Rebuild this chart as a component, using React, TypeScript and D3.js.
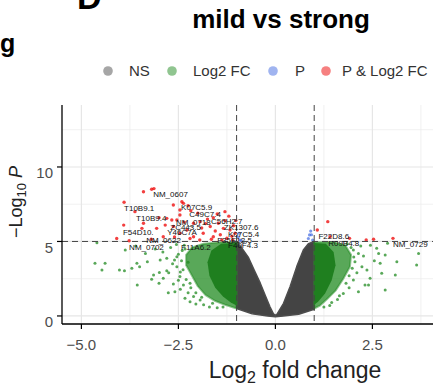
import React from "react";
import * as d3 from "d3";

// ---------- data ----------
const xTicks = [-5, -2.5, 0, 2.5];
const xMinor = [-3.75, -1.25, 1.25, 3.75];
const yTicks = [0, 5, 10];
const yMinor = [2.5, 7.5, 12.5];
const fcCutoff = 1;
const pCutoff = 5;

const legendItems = ["NS", "Log2 FC", "P", "P & Log2 FC"];

// dense "NS" cloud boundary (fc, -log10 p)
const nsCloud: [number, number][] = [
  [-1, 5.0], [-0.85, 4.5], [-0.7, 3.95], [-0.55, 3.1], [-0.39, 2.2], [-0.25, 1.3],
  [-0.14, 0.62], [-0.05, 0.15], [0, 0.04], [0.05, 0.15], [0.21, 0.85], [0.38, 1.97],
  [0.55, 3.31], [0.72, 4.43], [0.85, 4.85], [1, 5.0], [1, 0.45], [0.6, 0.12],
  [0.2, 0.0], [0, -0.05], [-0.2, 0.0], [-0.6, 0.14], [-1, 0.5],
];

// dense "Log2 FC" clouds (outer / core)
const fcLeftOuter: [number, number][] = [
  [-1.0, 4.95], [-1.45, 4.95], [-1.85, 4.85], [-2.15, 4.6], [-2.3, 4.1], [-2.3, 3.4],
  [-2.15, 2.7], [-2.0, 2.0], [-1.8, 1.4], [-1.55, 1.0], [-1.3, 0.75], [-1.0, 0.5],
];
const fcLeftCore: [number, number][] = [
  [-1.0, 4.9], [-1.4, 4.85], [-1.65, 4.4], [-1.75, 3.6], [-1.7, 2.7], [-1.55, 1.9],
  [-1.35, 1.3], [-1.15, 0.9], [-1.0, 0.7],
];
const fcRightOuter: [number, number][] = [
  [1.0, 4.95], [1.5, 4.95], [1.8, 4.75], [1.95, 4.1], [1.92, 3.3], [1.75, 2.5],
  [1.55, 1.7], [1.32, 1.1], [1.15, 0.7], [1.0, 0.5],
];
const fcRightCore: [number, number][] = [
  [1.0, 4.9], [1.3, 4.85], [1.5, 4.3], [1.55, 3.4], [1.45, 2.4], [1.28, 1.5],
  [1.1, 0.95], [1.0, 0.75],
];

// scattered points
const greenPts: [number, number][] = [
  [-4.65, 3.54], [-4.39, 3.54], [-4.47, 3.09], [-4.02, 3.09], [-3.89, 3.04], [-3.7, 3.2],
  [-3.57, 3.54], [-3.5, 3.31], [-3.56, 2.08], [-3.3, 3.64], [-3.14, 2.75], [-2.99, 2.91],
  [-2.8, 3.04], [-3.19, 2.46], [-2.89, 2.53], [-2.63, 2.15], [-2.59, 1.63], [-2.37, 2.08],
  [-2.97, 3.76], [-2.8, 3.87], [-2.54, 3.98], [-3.87, 4.43], [-4.6, 4.92], [-2.46, 2.64],
  [-2.11, 1.3], [-1.94, 1.07], [-2.54, 3.31], [-2.76, 1.56], [-2.33, 1.19], [-3.35, 4.2],
  [-3.1, 4.5], [-2.9, 4.3], [-2.7, 4.6], [-2.65, 3.5], [-2.75, 2.9], [-3.0, 2.2],
  [-2.5, 2.4], [-2.45, 1.8], [-2.25, 1.55], [-2.2, 0.95], [-2.05, 0.8], [-1.85, 0.75],
  [-1.7, 0.6], [-1.5, 0.55], [-2.4, 4.4], [-3.6, 4.7],
  [-2.35, 4.75], [-2.42, 3.7], [-2.38, 3.1], [-2.3, 2.45], [-2.18, 1.9], [-2.05, 1.55],
  [-2.5, 4.15], [-2.33, 4.5], [-2.45, 2.95], [-2.6, 3.75], [-2.2, 2.2], [-1.9, 1.25],
  [-1.62, 0.85], [-1.35, 0.6], [-2.55, 4.8], [-2.25, 3.6],
  [2.01, 4.43], [2.14, 4.2], [2.27, 4.03], [2.05, 3.64], [2.23, 3.31], [2.36, 3.09],
  [2.44, 2.53], [2.31, 2.08], [2.61, 4.54], [2.66, 4.2], [2.7, 3.54], [2.89, 4.88],
  [2.83, 1.74], [3.64, 3.42], [3.69, 4.2], [2.74, 2.87], [2.01, 2.42], [2.14, 1.63],
  [2.83, 4.09], [3.13, 3.64], [2.4, 2.08], [3.09, 2.75], [2.2, 4.7], [2.45, 4.75],
  [1.75, 1.5], [1.6, 1.1], [1.4, 0.7], [1.9, 1.9], [2.55, 3.7],
  [1.95, 4.6], [2.02, 3.95], [1.98, 3.2], [1.9, 2.7], [1.82, 2.2], [1.65, 1.35],
  [1.45, 0.9], [1.25, 0.6], [2.1, 2.9], [1.85, 4.85],
];
const bluePts: [number, number][] = [
  [0.91, 5.7], [0.88, 5.44], [0.85, 5.2], [0.93, 5.45], [0.96, 5.1],
  [-0.91, 5.1], [-0.93, 5.55], [-0.96, 5.3], [-0.88, 5.05],
];
const redPts: [number, number][] = [
  [-3.4, 8.34], [-3.19, 8.5], [-3.13, 8.55], [-3.9, 7.63], [-3.62, 7.0], [-2.41, 7.67],
  [-2.37, 7.56], [-3.91, 6.1], [-4.09, 5.2], [-3.77, 5.05], [-3.4, 6.22], [-3.44, 5.88],
  [-3.06, 5.88], [-2.89, 5.32], [-2.67, 6.44], [-2.63, 6.0], [-2.46, 6.78], [-2.63, 7.45],
  [-2.46, 7.11], [-2.18, 7.07], [-2.8, 6.55], [-2.54, 6.44], [-2.11, 6.22], [-1.94, 6.33],
  [-1.68, 6.0], [-1.47, 6.22], [-1.34, 5.88], [-1.17, 5.77], [-1.04, 5.55], [-1.86, 5.55],
  [-1.6, 5.32], [-1.25, 5.22], [-2.11, 5.32], [-2.28, 5.77], [-2.84, 6.1], [-2.46, 5.55],
  [-1.9, 5.9], [-1.75, 6.5], [-1.55, 5.7], [-1.42, 5.45], [-1.3, 6.4], [-1.12, 5.35],
  [-1.08, 6.05], [-1.2, 6.7], [-1.5, 6.85], [-1.65, 5.15], [-1.95, 5.1], [-2.2, 5.2],
  [-2.35, 6.3], [-2.0, 6.9], [-1.38, 5.1], [-1.1, 5.1], [-1.8, 6.2], [-2.6, 5.3],
  [-3.2, 5.15], [-3.0, 6.6], [-2.25, 7.4], [-1.3, 7.0], [-1.02, 6.4], [-1.6, 6.6],
  [1.35, 6.33], [1.08, 5.77], [1.41, 5.32], [1.91, 5.21], [2.34, 5.1], [2.53, 5.15], [3.03, 5.21],
];

// gene labels: text and the data position of their left baseline
const labelText = [
  "NM_0607", "T10B9.1", "T10B9.4", "K07C5.9", "C49C7.4", "NM_0718", "C56H2.7",
  "ZC443.5", "F54D10.", "Y46C7A", "NM_0622", "NM_0702", "F11A6.2", "F35E12.5",
  "ZK1307.6", "K07C5.4", "F40F4.3", "F22D8.6", "R09B4.8", "NM_0729",
];
const labelFc = [
  -3.15, -3.9, -3.59, -2.43, -2.22, -2.56, -1.66, -2.71, -3.93, -2.79, -3.33, -3.77,
  -2.43, -1.5, -1.33, -1.22, -1.22, 1.11, 1.36, 3.03,
];
const labelLp = [
  7.99, 7.05, 6.38, 7.11, 6.64, 6.11, 6.17, 5.77, 5.44, 5.44, 4.9, 4.43, 4.43, 4.9,
  5.77, 5.3, 4.57, 5.17, 4.7, 4.63,
];

// ---------- layout ----------
const W = 433;
const H = 390;
const FONT = "'Liberation Sans', Arial, sans-serif";

export default function App() {
  const x = d3.scaleLinear().domain([-5.5, 5.5]).range([62, 62 + 11 * 38.8]);
  const y = d3.scaleLinear().domain([-0.54, 14.16]).range([324, 105]);
  const [x0, x1] = [62, W + 10];
  const [yTop, yBot] = [105, 324];

  const poly = d3
    .line<[number, number]>()
    .x((d) => x(d[0]))
    .y((d) => y(d[1]))
    .curve(d3.curveLinearClosed);

  const legendColors = ["#a6a6a6", "#90c590", "#a0b4f0", "#f68080"];
  const legendCx = [108, 172, 273, 326];
  const legendTx = [129, 193, 295, 342];

  return (
    <svg
      width={W}
      height={H}
      style={{ position: "absolute", left: 0, top: 0, background: "#fff" }}
      fontFamily={FONT}
    >
      <rect width={W} height={H} fill="#fff" />
      {/* stray panel text */}
      <text x={77} y={9} fontSize={34} fontWeight="bold" fill="#000">D</text>
      <text x={0} y={52} fontSize={25} fontWeight="bold" fill="#000">g</text>
      <text x={281} y={28} fontSize={26} fontWeight="bold" textAnchor="middle" fill="#000">
        mild vs strong
      </text>

      {/* legend */}
      {legendItems.map((t, i) => (
        <g key={t}>
          <circle cx={legendCx[i]} cy={71} r={4.8} fill={legendColors[i]} />
          <text x={legendTx[i]} y={71} dy="0.35em" fontSize={15} fill="#333">{t}</text>
        </g>
      ))}

      {/* grid */}
      {xMinor.map((v) => (
        <line key={"xm" + v} x1={x(v)} x2={x(v)} y1={yTop} y2={yBot} stroke="#ebebeb" strokeWidth={0.7} />
      ))}
      {yMinor.map((v) => (
        <line key={"ym" + v} x1={x0} x2={x1} y1={y(v)} y2={y(v)} stroke="#ebebeb" strokeWidth={0.7} />
      ))}
      {xTicks.map((v) => (
        <line key={"xg" + v} x1={x(v)} x2={x(v)} y1={yTop} y2={yBot} stroke="#e6e6e6" strokeWidth={1.2} />
      ))}
      {yTicks.map((v) => (
        <line key={"yg" + v} x1={x0} x2={x1} y1={y(v)} y2={y(v)} stroke="#e6e6e6" strokeWidth={1.2} />
      ))}

      {/* dense clouds */}
      <path d={poly(nsCloud) || ""} fill="#444" stroke="#4d4d4d" strokeWidth={1.5} strokeLinejoin="round" />
      <path d={poly(fcLeftOuter) || ""} fill="#228B22" fillOpacity={0.75} stroke="#228B22" strokeOpacity={0.5} strokeWidth={2} strokeLinejoin="round" />
      <path d={poly(fcLeftCore) || ""} fill="#1f7f1f" />
      <path d={poly(fcRightOuter) || ""} fill="#228B22" fillOpacity={0.75} stroke="#228B22" strokeOpacity={0.5} strokeWidth={2} strokeLinejoin="round" />
      <path d={poly(fcRightCore) || ""} fill="#1f7f1f" />

      {/* points */}
      {greenPts.map((d, i) => (
        <circle key={"g" + i} cx={x(d[0])} cy={y(d[1])} r={1.5} fill="#228B22" fillOpacity={0.75} />
      ))}
      {bluePts.map((d, i) => (
        <circle key={"b" + i} cx={x(d[0])} cy={y(d[1])} r={1.6} fill="#4169E1" fillOpacity={0.7} />
      ))}
      {redPts.map((d, i) => (
        <circle key={"r" + i} cx={x(d[0])} cy={y(d[1])} r={1.7} fill="#EE0000" fillOpacity={0.75} />
      ))}

      {/* cutoffs */}
      {[-fcCutoff, fcCutoff].map((v) => (
        <line key={"vc" + v} x1={x(v)} x2={x(v)} y1={yTop} y2={yBot} stroke="#444" strokeWidth={1} strokeDasharray="6,4" />
      ))}
      <line x1={x0} x2={x1} y1={y(pCutoff)} y2={y(pCutoff)} stroke="#444" strokeWidth={1} strokeDasharray="6,4" />

      {/* gene labels */}
      {labelText.map((t, i) => (
        <text key={"l" + i} x={x(labelFc[i])} y={y(labelLp[i])} fontSize={8} fill="#111">{t}</text>
      ))}

      {/* axes */}
      <line x1={x0} x2={x0} y1={yTop} y2={yBot} stroke="#000" strokeWidth={1.3} />
      <line x1={x0} x2={x1} y1={yBot} y2={yBot} stroke="#000" strokeWidth={1.3} />
      {yTicks.map((v) => (
        <g key={"yt" + v}>
          <line x1={x0 - 5} x2={x0} y1={y(v)} y2={y(v)} stroke="#000" strokeWidth={1.2} />
          <text x={53} y={y(v) + 6} dy="0.35em" fontSize={15} textAnchor="end" fill="#4d4d4d">{v}</text>
        </g>
      ))}
      {xTicks.map((v) => (
        <g key={"xt" + v}>
          <line x1={x(v)} x2={x(v)} y1={yBot} y2={yBot + 5} stroke="#000" strokeWidth={1.2} />
          <text x={x(v)} y={345} dy="0.35em" fontSize={15} textAnchor="middle" fill="#4d4d4d">
            {d3.format(".1f")(v)}
          </text>
        </g>
      ))}

      {/* axis titles */}
      <text x={295} y={378} fontSize={23} textAnchor="middle" fill="#222">
        Log<tspan fontSize={16} dy={5}>2</tspan>
        <tspan dy={-5}> fold change</tspan>
      </text>
      <text transform="translate(22,202) rotate(-90)" fontSize={18} textAnchor="middle" fill="#222">
        −Log<tspan fontSize={13} dy={4}>10</tspan>
        <tspan dy={-4}> </tspan>
        <tspan fontStyle="italic">P</tspan>
      </text>
    </svg>
  );
}
